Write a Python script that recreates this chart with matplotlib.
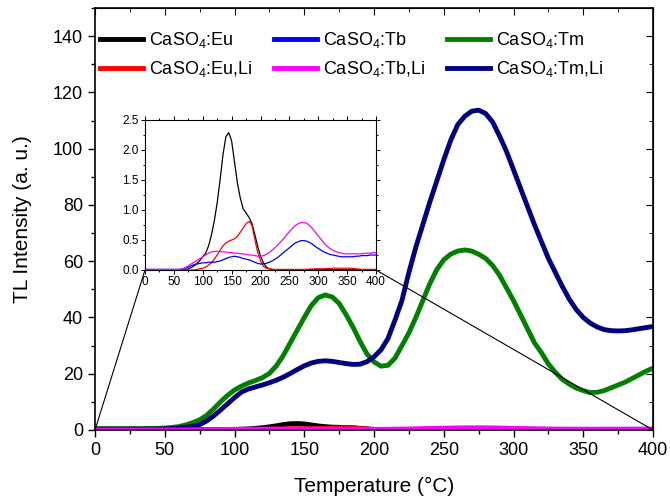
import numpy as np
import matplotlib
matplotlib.use("Agg")
import matplotlib.pyplot as plt
from matplotlib.patches import ConnectionPatch
from matplotlib.ticker import MultipleLocator, FormatStrFormatter

plt.rcParams['font.family'] = ['Liberation Sans', 'DejaVu Sans']
plt.rcParams['mathtext.fontset'] = 'custom'
plt.rcParams['mathtext.rm'] = 'Liberation Sans'
plt.rcParams['mathtext.it'] = 'Liberation Sans'

# Temperatures (degC), 5 degC steps
T = list(range(0, 401, 5))

# CaSO4:Tm
tm = [0.5, 0.5, 0.5, 0.5, 0.5, 0.5, 0.5, 0.5, 0.55, 0.6,
      0.7, 0.9, 1.2, 1.8, 2.6, 3.6, 5.2, 7.5, 10, 12.3,
      14.2, 15.6, 16.7, 17.6, 18.6, 20.1, 22.8, 26.5, 31, 35.5,
      40, 44.2, 47, 48, 47.3, 45, 41, 36.5, 31.5, 27,
      24.2, 22.7, 23, 25.5, 30, 34.5, 40, 46, 52, 57,
      60.5, 62.5, 63.6, 64, 63.6, 62.5, 61, 58.5, 55, 50.5,
      46, 41, 36, 31, 27.5, 23.5, 20.5, 18, 16.3, 14.9,
      14, 13.3, 13.4, 14, 15, 16, 17, 18.3, 19.6, 20.9,
      22]
# CaSO4:Tm,Li
tm_li = [0.3, 0.3, 0.3, 0.3, 0.3, 0.3, 0.3, 0.3, 0.3, 0.3,
         0.4, 0.5, 0.7, 1.0, 1.3, 1.9, 3.2, 5, 7.1, 9.3,
         11.5, 13.5, 14.6, 15.3, 16, 16.8, 17.7, 18.8, 20.1, 21.5,
         22.8, 23.8, 24.4, 24.6, 24.4, 24, 23.6, 23.3, 23.4, 24.3,
         26, 28.5, 32.5, 39, 46, 56, 65, 73, 81, 88.5,
         96, 103, 108.5, 111.5, 113.3, 113.7, 112.5, 109.5, 104.5, 99,
         92.5, 86, 79.5, 73, 67, 61, 56, 51, 46.5, 42.8,
         40, 38, 36.6, 35.7, 35.3, 35.2, 35.3, 35.6, 36, 36.4,
         36.8]
# CaSO4:Eu
eu = [0.0] * 15 + [0.02, 0.04, 0.07, 0.11, 0.16, 0.22, 0.28, 0.40, 0.58, 0.82,
                   1.12, 1.5, 1.92, 2.22, 2.29, 2.15, 1.8, 1.45, 1.2, 1.02, 0.95,
                   0.88, 0.78, 0.6, 0.4, 0.23, 0.12, 0.05, 0.02, 0.01] + [0.005] * 36
# CaSO4:Eu,Li
eu_li = [0.0] * 18 + [0.01, 0.02, 0.03, 0.05, 0.08, 0.12, 0.18, 0.25, 0.33, 0.40,
                      0.45, 0.48, 0.5, 0.52, 0.56, 0.63, 0.7, 0.77, 0.81, 0.75,
                      0.52, 0.3, 0.15, 0.06, 0.03, 0.02, 0.01, 0.01, 0.01, 0.01,
                      0.01, 0.01, 0.01, 0.01, 0.01, 0.01, 0.01, 0.01, 0.01, 0.015,
                      0.015, 0.02, 0.02, 0.02, 0.02, 0.025, 0.025, 0.03, 0.03,
                      0.03, 0.03, 0.03, 0.03, 0.03, 0.025, 0.02, 0.015, 0.01,
                      0.01, 0.01, 0.01, 0.01, 0.01]
# CaSO4:Tb
tb = [0.01] * 13 + [0.02, 0.03, 0.05, 0.07, 0.09, 0.1, 0.11, 0.12, 0.12, 0.13,
                    0.13, 0.13, 0.14, 0.15, 0.17, 0.19, 0.21, 0.22, 0.23, 0.22,
                    0.21, 0.19, 0.18, 0.17, 0.15, 0.13, 0.11, 0.1, 0.1, 0.11,
                    0.13, 0.15, 0.18, 0.21, 0.25, 0.29, 0.33, 0.37, 0.41, 0.45,
                    0.47, 0.49, 0.49, 0.48, 0.46, 0.43, 0.39, 0.36, 0.33, 0.30,
                    0.28, 0.26, 0.25, 0.24, 0.23, 0.22, 0.22, 0.22, 0.22, 0.22,
                    0.23, 0.23, 0.24, 0.24, 0.24, 0.25, 0.25, 0.25]
# CaSO4:Tb,Li
tb_li = [0.01] * 13 + [0.02, 0.04, 0.07, 0.1, 0.13, 0.16, 0.19, 0.22, 0.25, 0.28,
                       0.30, 0.31, 0.31, 0.31, 0.30, 0.30, 0.29, 0.29, 0.28, 0.28,
                       0.27, 0.27, 0.26, 0.25, 0.25, 0.24, 0.23, 0.23, 0.24, 0.26,
                       0.29, 0.33, 0.37, 0.42, 0.47, 0.52, 0.58, 0.64, 0.69, 0.74,
                       0.77, 0.79, 0.79, 0.78, 0.74, 0.69, 0.63, 0.57, 0.51, 0.45,
                       0.40, 0.36, 0.33, 0.31, 0.29, 0.28, 0.27, 0.27, 0.27, 0.27,
                       0.27, 0.27, 0.27, 0.28, 0.28, 0.28, 0.29, 0.29]

labels = ['CaSO$_4$:Eu', 'CaSO$_4$:Eu,Li', 'CaSO$_4$:Tb', 'CaSO$_4$:Tb,Li',
          'CaSO$_4$:Tm', 'CaSO$_4$:Tm,Li']
colors = ['#000000', '#ff0000', '#0000ff', '#ff00ff', '#008000', '#000080']

fig = plt.figure(figsize=(6.7, 5.0), dpi=100)
ax = fig.add_axes([95/670, 70/500, 558/670, 422/500])

lw = 3.5
h_eu, = ax.plot(T, eu, color=colors[0], lw=lw, label=labels[0])
h_euli, = ax.plot(T, eu_li, color=colors[1], lw=lw, label=labels[1])
h_tb, = ax.plot(T, tb, color=colors[2], lw=lw, label=labels[2])
h_tm, = ax.plot(T, tm, color=colors[4], lw=lw, label=labels[4])
h_tmli, = ax.plot(T, tm_li, color=colors[5], lw=lw, label=labels[5])
h_tbli, = ax.plot(T, tb_li, color=colors[3], lw=lw, label=labels[3])

ax.set_xlim(0, 400)
ax.set_ylim(0, 150)
ax.xaxis.set_major_locator(MultipleLocator(50))
ax.xaxis.set_minor_locator(MultipleLocator(25))
ax.set_yticks(range(0, 141, 20))
ax.yaxis.set_minor_locator(MultipleLocator(10))
ax.tick_params(axis='both', which='major', labelsize=13, length=5, width=1, direction='out')
ax.tick_params(axis='both', which='minor', length=3, width=1, direction='out')
axr = ax.secondary_yaxis('right')
axr.set_yticks(range(0, 141, 20))
axr.yaxis.set_minor_locator(MultipleLocator(10))
axr.tick_params(which='major', direction='in', length=5, labelright=False)
axr.tick_params(which='minor', direction='in', length=3)
axt = ax.secondary_xaxis('top')
axt.xaxis.set_major_locator(MultipleLocator(50))
axt.xaxis.set_minor_locator(MultipleLocator(25))
axt.tick_params(which='major', direction='in', length=5, labeltop=False)
axt.tick_params(which='minor', direction='in', length=3)
for s in ax.spines.values():
    s.set_linewidth(1.2)

ax.set_xlabel('Temperature (°C)', fontsize=15, labelpad=13)
ax.set_ylabel('TL Intensity (a. u.)', fontsize=15, labelpad=15)

leg = ax.legend(handles=[h_eu, h_euli, h_tb, h_tbli, h_tm, h_tmli], ncol=3,
                loc='upper left', bbox_to_anchor=(5/558, 0.948), frameon=False,
                fontsize=13, handlelength=2.4, handletextpad=0.3,
                columnspacing=1.2, labelspacing=0.5, borderpad=0, borderaxespad=0)

# Inset
ins = fig.add_axes([145/670, 230/500, 231/670, 150/500])
ilw = 0.9
ins.plot(T, eu, color=colors[0], lw=ilw)
ins.plot(T, eu_li, color=colors[1], lw=ilw)
ins.plot(T, tb, color=colors[2], lw=ilw)
ins.plot(T, tb_li, color=colors[3], lw=ilw)
ins.set_xlim(0, 400)
ins.set_ylim(0, 2.5)
ins.xaxis.set_major_locator(MultipleLocator(50))
ins.xaxis.set_minor_locator(MultipleLocator(25))
ins.yaxis.set_major_locator(MultipleLocator(0.5))
ins.yaxis.set_minor_locator(MultipleLocator(0.25))
ins.yaxis.set_major_formatter(FormatStrFormatter('%.1f'))
ins.tick_params(axis='both', which='major', labelsize=8.5, length=3, width=0.7,
                direction='out', pad=1.5)
ins.tick_params(axis='both', which='minor', length=1.5, width=0.7, direction='out')
ins.tick_params(top=True, right=True, which='both')
for s in ins.spines.values():
    s.set_linewidth(0.8)

for xa, xb in [((0, 0), (0, 0)), ((400, 0), (1, 0))]:
    cp = ConnectionPatch(xyA=xa, coordsA=ax.transData, xyB=xb, coordsB=ins.transAxes,
                         color='black', lw=0.8)
    fig.add_artist(cp)

fig.savefig('out.png', dpi=100)
